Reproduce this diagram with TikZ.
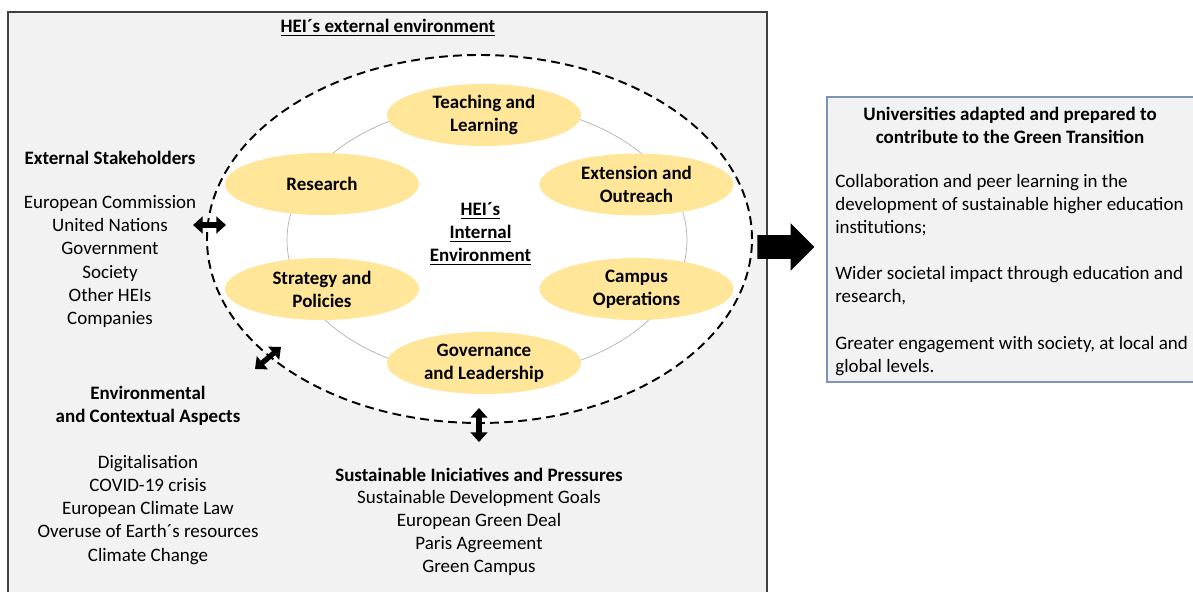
\documentclass[tikz,border=0pt]{standalone}
\usepackage{fontspec}
\setmainfont{Carlito}
\usetikzlibrary{shapes.geometric,shapes.arrows,arrows.meta}
\definecolor{envgray}{HTML}{F2F2F2}
\definecolor{topicyellow}{HTML}{FFE699}
\definecolor{boxblue}{HTML}{7F93B5}
\begin{document}
\begin{tikzpicture}[
  font=\fontsize{10.8}{13.1}\selectfont,
  topic/.style={ellipse,fill=topicyellow,minimum width=3.88cm,minimum height=1.24cm,inner sep=0pt,align=center,font=\fontsize{10.8}{13.1}\selectfont\bfseries},
  heading/.style={align=center,inner sep=0pt,font=\fontsize{10.8}{13.1}\selectfont\bfseries},
  listing/.style={align=center,inner sep=0pt},
  twoway/.style={{Triangle[width=9.5pt,length=5.5pt]}-{Triangle[width=9.5pt,length=5.5pt]},line width=3pt}]
\useasboundingbox (0,0) rectangle (23.86,-11.84);
%
\draw[draw=black!75,fill=envgray,line width=0.8pt](0.16,-0.24) rectangle (15.34,-12.2);
\node[heading] (extenv) at (7.76,-0.56) {\underline{HEI´s external environment}};
%
\draw[dash pattern=on 5pt off 3pt,line width=1.1pt,fill=white](9.59,-4.78) ellipse [x radius=5.45,y radius=3.68];
\draw[black!30,line width=0.4pt](9.74,-4.8) ellipse [x radius=4.0,y radius=2.72];
%
\node[topic] (teach) at (9.68,-2.3) {Teaching and\\Learning};
\node[topic] (research) at (6.44,-3.68) {Research};
\node[topic] (extension) at (12.73,-3.69) {Extension and\\Outreach};
\node[topic] (strategy) at (6.44,-5.78) {Strategy and\\Policies};
\node[topic] (campus) at (12.73,-5.78) {Campus\\Operations};
\node[topic] (governance) at (9.68,-7.26) {Governance\\and Leadership};
\node[heading] (intenv) at (9.61,-4.68) {\underline{HEI´s}\\\underline{Internal}\\\underline{Environment}};
%
\node[heading] (stakeholders) at (2.2,-3.16) {External Stakeholders};
\node[listing] (stakelist) at (2.2,-5.23) {European Commission\\United Nations\\Government\\Society\\Other HEIs\\Companies};
\node[heading] (aspects) at (2.96,-8.12) {Environmental\\and Contextual Aspects};
\node[listing] (aspectlist) at (2.96,-10.2) {Digitalisation\\COVID-19 crisis\\European Climate Law\\Overuse of Earth´s resources\\Climate Change};
\node[heading] (pressures) at (9.58,-9.5) {Sustainable Iniciatives and Pressures};
\node[listing] (pressurelist) at (9.58,-10.65) {Sustainable Development Goals\\European Green Deal\\Paris Agreement\\Green Campus};
%
\coordinate (hl) at (3.86,-4.5);
\coordinate (hr) at (4.52,-4.5);
\coordinate (dl) at (5.1,-7.38);
\coordinate (dr) at (5.62,-6.94);
\coordinate (vt) at (9.58,-8.16);
\coordinate (vb) at (9.58,-8.84);
\draw[twoway](hl)--(hr);
\draw[twoway](dl)--(dr);
\draw[twoway](vt)--(vb);
%
\node[single arrow,fill=black,minimum height=1.14cm,minimum width=0.94cm,inner sep=0.23cm,single arrow head extend=0.24cm] (transition) at (15.6,-4.94) {};
%
\draw[draw=boxblue,fill=envgray,line width=0.8pt](16.54,-1.94) rectangle (24.2,-7.64);
\node[heading] (goal) at (20.2,-2.5) {Universities adapted and prepared to\\contribute to the Green Transition};
\node[anchor=west,align=left,inner sep=0pt] (outcomes) at (16.7,-5.5) {Collaboration and peer learning in the\\development of sustainable higher education\\institutions;\\[13.1pt]Wider societal impact through education and\\research,\\[13.1pt]Greater engagement with society, at local and\\global levels.};
\end{tikzpicture}
\end{document}
